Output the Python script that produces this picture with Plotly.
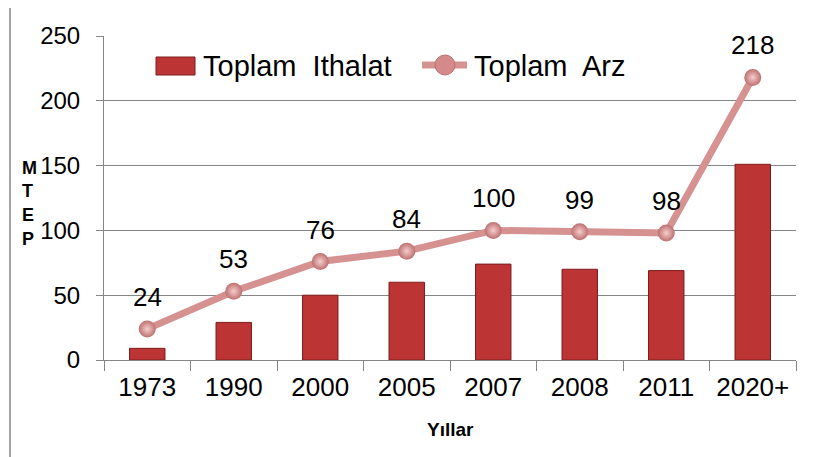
import plotly.graph_objects as go

categories = ["1973", "1990", "2000", "2005", "2007", "2008", "2011", "2020+"]
ithalat = [9, 29, 50, 60, 74, 70, 69, 151]
arz = [24, 53, 76, 84, 100, 99, 98, 218]
y_ticks = [0, 50, 100, 150, 200, 250]

FONT = "Liberation Sans, Arial, sans-serif"
GRID = "rgb(134,134,134)"
BAR = "rgb(188,52,52)"
BAR_EDGE = "rgb(125,28,28)"
LINE = "rgb(214,145,145)"

OFF = 8  # page body offset
L, R, T, B = 104, 796, 36, 360
def px(x):
    return (x - L) / (R - L)
def py(y):
    return (B - y) / (B - T)

fig = go.Figure()
fig.add_trace(go.Bar(
    x=categories, y=ithalat, name="Toplam Ithalat",
    marker=dict(color=BAR, line=dict(color=BAR_EDGE, width=1)),
    width=0.41, showlegend=False,
))
fig.add_trace(go.Scatter(
    x=categories, y=arz, name="Toplam Arz", mode="lines+markers",
    line=dict(color=LINE, width=7),
    marker=dict(size=17, color="rgb(190,112,112)",
                gradient=dict(type="radial", color="rgb(246,205,205)"),
                line=dict(width=0)),
    showlegend=False, cliponaxis=False,
))

shapes = [
    dict(type="line", xref="paper", yref="paper", x0=px(10), x1=px(840), y0=py(7), y1=py(7),
         line=dict(color=GRID, width=1.5)),
    dict(type="line", xref="paper", yref="paper", x0=px(10), x1=px(10), y0=py(7), y1=py(480),
         line=dict(color=GRID, width=1.5)),
    dict(type="rect", xref="paper", yref="paper", x0=px(156), x1=px(195), y0=py(75), y1=py(57),
         fillcolor=BAR, line=dict(color=BAR_EDGE, width=1)),
    dict(type="line", xref="paper", yref="paper", x0=px(422), x1=px(467), y0=py(65), y1=py(65),
         line=dict(color=LINE, width=7)),
    dict(type="circle", xref="paper", yref="paper", xsizemode="pixel", ysizemode="pixel",
         xanchor=px(445), yanchor=py(65), x0=-10, x1=10, y0=-10, y1=10,
         fillcolor="rgb(212,138,138)", line=dict(color="rgb(190,112,112)", width=1)),
]

annotations = [
    dict(text="Toplam  Ithalat", xref="paper", yref="paper", x=px(201), y=py(66),
         xanchor="left", yanchor="middle", showarrow=False,
         font=dict(family=FONT, size=29, color="black")),
    dict(text="Toplam  Arz", xref="paper", yref="paper", x=px(472), y=py(66),
         xanchor="left", yanchor="middle", showarrow=False,
         font=dict(family=FONT, size=29, color="black")),
    dict(text="<b>Yıllar</b>", xref="paper", yref="paper", x=px(450), y=py(429),
         xanchor="center", yanchor="middle", showarrow=False,
         font=dict(family=FONT, size=19, color="black")),
]
for letter, yy in zip(["M", "T", "E", "P"], [168, 191, 215, 239]):
    annotations.append(dict(text=f"<b>{letter}</b>", xref="paper", yref="paper",
                            x=px(20), y=py(yy), xanchor="left", yanchor="middle",
                            showarrow=False, font=dict(family=FONT, size=18, color="black")))
# data labels above the line points (category index on the category axis)
for i, v in enumerate(arz):
    annotations.append(dict(text=str(v), x=i, y=v, xref="x", yref="y",
                            yshift=32, xanchor="center", yanchor="middle", showarrow=False,
                            font=dict(family=FONT, size=26, color="black")))

W, H = 819, 457
fig.update_layout(
    width=W, height=H,
    margin=dict(l=L - OFF, r=W - R + OFF, t=T - OFF, b=H - B + OFF, pad=0),
    paper_bgcolor="white", plot_bgcolor="white",
    font=dict(family=FONT, color="black"),
    shapes=shapes, annotations=annotations,
    xaxis=dict(
        type="category", categoryorder="array", categoryarray=categories,
        range=[-0.5, len(categories) - 0.5],
        showgrid=False, showline=True, linecolor=GRID, linewidth=1,
        ticks="outside", tickson="boundaries", ticklen=10, tickcolor=GRID,
        tickfont=dict(family=FONT, size=26, color="black"),
        ticklabelstandoff=4,
    ),
    yaxis=dict(
        range=[0, 250], tickvals=y_ticks, showgrid=True, gridcolor=GRID, gridwidth=1,
        showline=True, linecolor=GRID, linewidth=1, zeroline=False,
        ticks="outside", ticklen=7, tickcolor=GRID,
        tickfont=dict(family=FONT, size=24, color="black"),
        ticklabelstandoff=11,
    ),
)

fig.write_html("out.html")
